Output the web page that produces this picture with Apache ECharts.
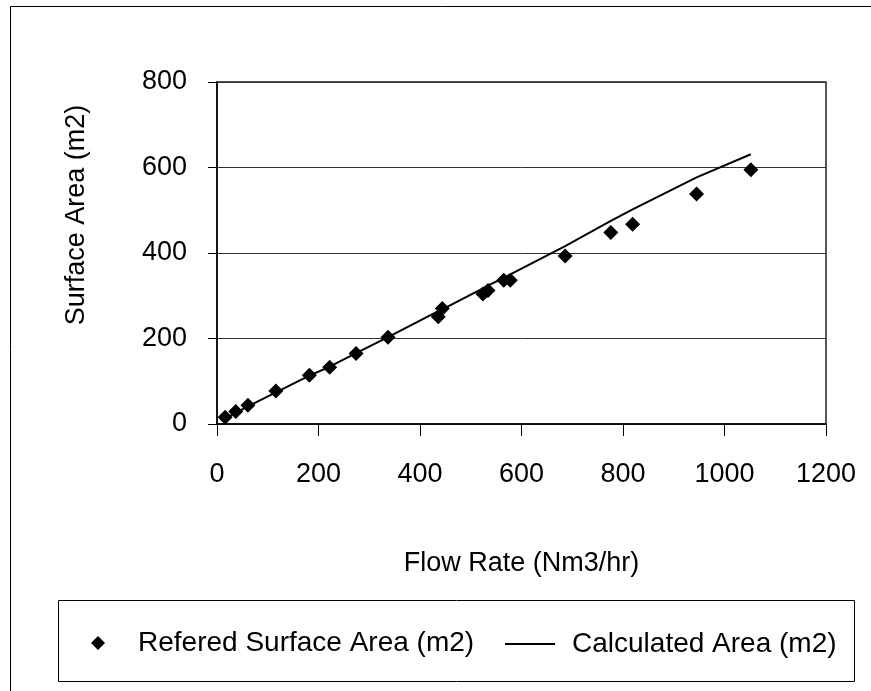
<!DOCTYPE html>
<html>
<head>
<meta charset="utf-8">
<script src="https://cdn.jsdelivr.net/npm/echarts@6/dist/echarts.min.js"></script>
<style>
html,body{margin:0;padding:0;background:#fff;}
#chart{width:871px;height:691px;}
</style>
</head>
<body>
<div id="chart"></div>
<script>
// Data
const flowRate = [16, 37, 61, 116, 182, 222, 274, 337, 436, 444, 524, 534, 565, 578, 686, 776, 819, 945, 1052];
const referedArea = [16, 29, 44, 77, 114, 133, 165, 203, 251, 270, 304, 312, 336, 336, 393, 448, 467, 538, 595];
const calculatedArea = [13, 26, 41, 74, 113, 134, 166, 203, 264, 268, 317, 324, 342, 350, 416, 475, 502, 577, 631];
const xTicks = [0, 200, 400, 600, 800, 1000, 1200];
const yTicks = [0, 200, 400, 600, 800];
const seriesNames = ['Refered Surface Area (m2)', 'Calculated Area (m2)'];
const axisNames = ['Flow Rate (Nm3/hr)', 'Surface Area (m2)'];

const FONT = '"Liberation Sans", Arial, sans-serif';
const chart = echarts.init(document.getElementById('chart'), null, {renderer: 'canvas'});

const option = {
  backgroundColor: '#ffffff',
  animation: false,
  grid: {
    left: 217, right: 45, top: 82, bottom: 267,
    show: true, borderColor: '#202020', borderWidth: 1.5, backgroundColor: 'transparent'
  },
  xAxis: {
    type: 'value',
    min: xTicks[0], max: xTicks[xTicks.length - 1], interval: 200,
    name: axisNames[0], nameLocation: 'middle', nameGap: 126,
    nameTextStyle: {fontFamily: FONT, fontSize: 27, color: '#000'},
    axisLine: {show: true, onZero: false, lineStyle: {color: '#000', width: 1.5}},
    axisTick: {show: true, inside: false, length: 12, lineStyle: {color: '#000', width: 1}},
    axisLabel: {fontFamily: FONT, fontSize: 27, color: '#000', margin: 37,
                formatter: v => String(v)},
    splitLine: {show: false}
  },
  yAxis: {
    type: 'value',
    min: yTicks[0], max: yTicks[yTicks.length - 1], interval: 200,
    axisLine: {show: true, onZero: false, lineStyle: {color: '#000', width: 1.5}},
    axisTick: {show: true, inside: false, length: 9, lineStyle: {color: '#000', width: 1}},
    axisLabel: {fontFamily: FONT, fontSize: 27, color: '#000', margin: 30,
                formatter: v => String(v)},
    splitLine: {show: true, lineStyle: {color: '#303030', width: 1}}
  },
  legend: [
    {
      data: [{name: seriesNames[0], icon: 'diamond'}],
      left: 86, top: 624,
      itemWidth: 14, itemHeight: 14,
      textStyle: {fontFamily: FONT, fontSize: 28, color: '#000', padding: [0, 0, 0, 28]},
      selectedMode: false
    },
    {
      data: [{name: seriesNames[1], icon: 'rect'}],
      left: 500, top: 625,
      itemWidth: 50, itemHeight: 2,
      itemStyle: {color: '#000'},
      textStyle: {fontFamily: FONT, fontSize: 28, color: '#000', padding: [0, 0, 0, 12]},
      selectedMode: false
    }
  ],
  graphic: [
    {type: 'rect', shape: {x: 10.5, y: 6.5, width: 1000, height: 1000}, style: {fill: 'none', stroke: '#000', lineWidth: 1}, silent: true, z: -10},
    {type: 'rect', shape: {x: 58.5, y: 600.5, width: 796, height: 81}, style: {fill: 'none', stroke: '#000', lineWidth: 1}, silent: true},
    {type: 'text', x: 77, y: 215, rotation: Math.PI / 2,
     style: {text: axisNames[1], fontFamily: FONT, fontSize: 27, fill: '#000', textAlign: 'center', textVerticalAlign: 'middle'}}
  ],
  series: [
    {
      name: seriesNames[0], type: 'scatter',
      symbol: 'diamond', symbolSize: 15,
      itemStyle: {color: '#000', opacity: 1},
      data: flowRate.map((x, i) => [x, referedArea[i]]),
      z: 3
    },
    {
      name: seriesNames[1], type: 'line',
      showSymbol: false, symbol: 'none',
      lineStyle: {color: '#000', width: 2},
      itemStyle: {color: '#000'},
      data: flowRate.map((x, i) => [x, calculatedArea[i]]),
      z: 2
    }
  ]
};
chart.setOption(option);
</script>
</body>
</html>
